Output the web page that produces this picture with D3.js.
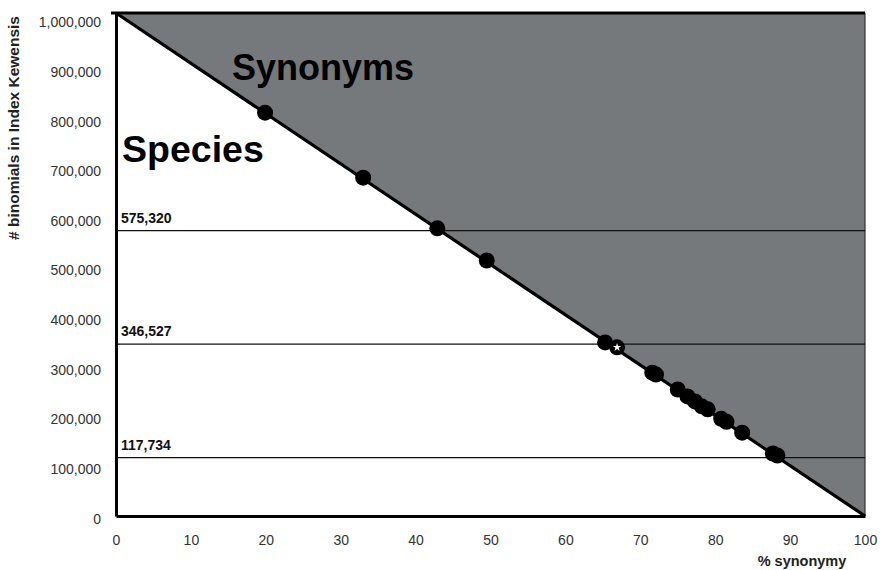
<!DOCTYPE html>
<html><head><meta charset="utf-8">
<script src="https://cdn.jsdelivr.net/npm/d3@7"></script>
<style>body{margin:0;background:#fff;font-family:"Liberation Sans",Arial,sans-serif;}</style>
</head><body><svg id="c" width="880" height="570"></svg>
<script>
const xTicks = [0,10,20,30,40,50,60,70,80,90,100];
const yTicks = [0,100000,200000,300000,400000,500000,600000,700000,800000,900000,1000000];
const refLines = [575320, 346527, 117734];
const dotX = [19.9,33.0,42.9,49.5,65.3,66.9,71.6,72.1,75.0,76.3,77.3,78.2,79.0,80.8,81.5,83.6,87.7,88.3];
const dotY = [813000,682000,580000,515000,350000,340000,289000,285000,255000,241000,231000,221000,215000,196000,190000,168000,126000,122000];
const starIndex = 5;
const yMax = 1014000;

const svg = d3.select("#c");
const x = d3.scaleLinear().domain([0,100]).range([116,865]);
const y = d3.scaleLinear().domain([0,yMax]).range([516,13]);

// shaded synonyms region
svg.append("path")
  .attr("d", d3.line()([[x(0),y(yMax)],[x(100),y(yMax)],[x(100),y(0)]]) + "Z")
  .attr("fill","#76797b");
svg.append("line").attr("x1",x(100)).attr("x2",x(100)).attr("y1",y(yMax)).attr("y2",y(0))
  .attr("stroke","#333").attr("stroke-width",1.2);

// reference lines
svg.selectAll(".ref").data(refLines).enter().append("line")
  .attr("x1",x(0)).attr("x2",x(100)).attr("y1",d=>y(d)).attr("y2",d=>y(d))
  .attr("stroke","#111").attr("stroke-width",1.3);
svg.selectAll(".reft").data(refLines).enter().append("text")
  .attr("x",x(0)+5).attr("y",d=>y(d)-8)
  .attr("font-size",14).attr("font-weight","bold").attr("fill","#111")
  .text(d=>d3.format(",")(d));

// diagonal
svg.append("line").attr("x1",x(0)).attr("y1",y(yMax)).attr("x2",x(100)).attr("y2",y(0))
  .attr("stroke","#000").attr("stroke-width",3.2);

// axes
const yAxis = d3.axisLeft(y).tickValues(yTicks).tickSize(0).tickPadding(15).tickFormat(d3.format(","));
const gy = svg.append("g").attr("transform",`translate(${x(0)},0)`).call(yAxis);
const xAxis = d3.axisBottom(x).tickValues(xTicks).tickSize(0).tickPadding(19);
const gx = svg.append("g").attr("transform",`translate(0,${y(0)})`).call(xAxis);
[gx,gy].forEach(g=>{
  g.select(".domain").attr("stroke","#000").attr("stroke-width",3);
  g.selectAll("text").attr("font-size",14).attr("fill","#333").attr("font-family","Liberation Sans, Arial, sans-serif");
});
gy.selectAll(".tick text").attr("dy","0.5em");
// top border
svg.append("line").attr("x1",x(0)-5).attr("x2",x(100)).attr("y1",y(yMax)).attr("y2",y(yMax))
  .attr("stroke","#000").attr("stroke-width",3);

// dots
svg.selectAll(".dot").data(dotX).enter().append("circle")
  .attr("cx",d=>x(d)).attr("cy",(d,i)=>y(dotY[i])).attr("r",8).attr("fill","#000");
svg.append("path").attr("d",d3.symbol(d3.symbolStar,22)())
  .attr("transform",`translate(${x(dotX[starIndex])},${y(dotY[starIndex])})`).attr("fill","#fff");

// labels
svg.append("text").attr("x",232).attr("y",80).attr("font-size",36).attr("font-weight","bold").attr("fill","#000").text("Synonyms");
svg.append("text").attr("x",122).attr("y",162).attr("font-size",37.5).attr("font-weight","bold").attr("fill","#000").text("Species");
svg.append("text").attr("transform","translate(19,128) rotate(-90)").attr("text-anchor","middle")
  .attr("font-size",15.5).attr("font-weight","bold").attr("fill","#222").text("# binomials in Index Kewensis");
svg.append("text").attr("x",802).attr("y",566).attr("text-anchor","middle")
  .attr("font-size",14.5).attr("font-weight","bold").attr("fill","#222").text("% synonymy");
</script></body></html>
